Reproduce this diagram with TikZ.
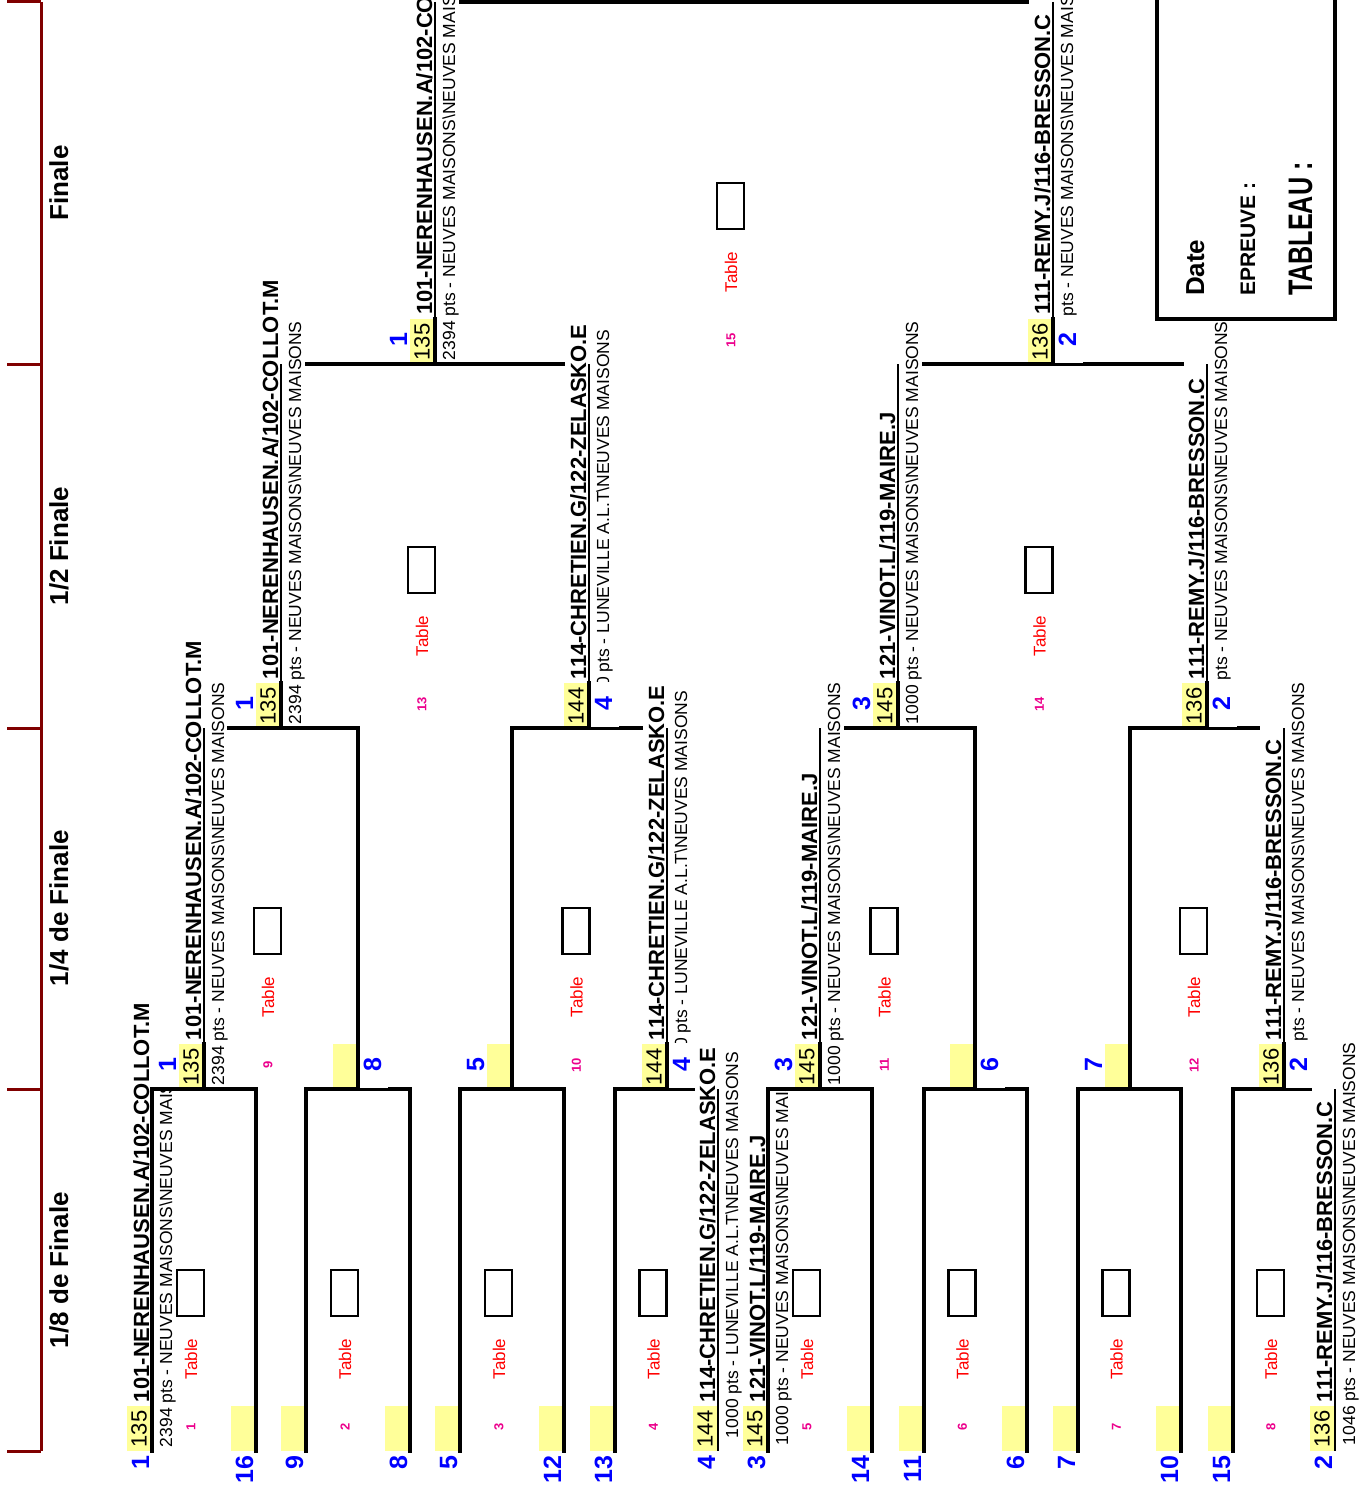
\documentclass[tikz,border=0pt]{standalone}
\usepackage{fontspec}
\usepackage{graphicx}
\setmainfont{Liberation Sans}
\usetikzlibrary{positioning}

\definecolor{darkred}{RGB}{128,0,0}
\definecolor{lightyellow}{RGB}{255,255,153}

\tikzset{
  bracket/.style={line width=3.4pt,line cap=rect},
  underline/.style={line width=1.8pt},
  vtext/.style={rotate=90,inner sep=0pt,outer sep=0pt},
  playername/.style={vtext,anchor=base west,font=\fontsize{22}{22}\selectfont\bfseries},
  clubtext/.style={vtext,anchor=base west,font=\fontsize{17.5}{17.5}\selectfont},
  ptsval/.style={vtext,font=\fontsize{22}{22}\selectfont},
  seedno/.style={vtext,anchor=base east,text=blue,font=\fontsize{25}{25}\selectfont\bfseries},
  tablebox/.style={draw,line width=2.2pt,minimum width=27pt,minimum height=46pt,inner sep=0pt},
  tablelabel/.style={vtext,text=red,font=\fontsize{17}{17}\selectfont},
  tableno/.style={vtext,text=magenta,font=\fontsize{13}{13}\selectfont\bfseries},
  stagelabel/.style={vtext,anchor=base,font=\fontsize{26}{26}\selectfont\bfseries},
  infolabel/.style={vtext,anchor=base west,font=\fontsize{26}{26}\selectfont\bfseries},
}

% yellow cell with the points: line x, bottom y, points, node name
\newcommand{\ptscell}[4]{%
  \fill[lightyellow] (#1-25,#2-45) rectangle (#1-1,#2);
  \node[ptsval] (#4) at (#1-13,#2-22) {#3};
}
% name and club of a player: line x, bottom y, name, club, club shift, node name
\newcommand{\player}[6]{%
  \node[playername] (#6n) at (#1-3,#2-49) {#3};
  \node[clubtext] (#6c) at (#1+20,#2-#5) {#4};
}
% line under a player: thin, thick next to the yellow cell
\newcommand{\namedline}[3]{%
  \draw[underline] (#1,#2) -- (#1,#3-45);
  \draw[bracket] (#1,#3-45) -- (#1,#3);
}
% seed on the right of the line, over a white cell
\newcommand{\seedright}[4]{%
  \fill[white] (#1+2,#2-46) rectangle (#1+30,#2-1);
  \node[seedno] (#4) at (#1+23,#2-31) {#3};
}
% table cell of a match: centre x, bottom y, number
\newcommand{\tablecell}[3]{%
  \node[tablebox] (tbox#3) at (#1-13.5,#2-158) {};
  \node[tablelabel] (tlab#3) at (#1-13,#2-92) {Table};
  \node[tableno] (tno#3) at (#1-13,#2-24) {#3};
}

\newcommand{\clubA}{2394 pts - NEUVES MAISONS\textbackslash NEUVES MAISONS}
\newcommand{\clubB}{1000 pts - LUNEVILLE A.L.T\textbackslash NEUVES MAISONS}
\newcommand{\clubC}{1000 pts - NEUVES MAISONS\textbackslash NEUVES MAISONS}
\newcommand{\clubD}{1046 pts - NEUVES MAISONS\textbackslash NEUVES MAISONS}
\newcommand{\pairA}{101-NERENHAUSEN.A/102-COLLOT.M}
\newcommand{\pairB}{114-CHRETIEN.G/122-ZELASKO.E}
\newcommand{\pairC}{121-VINOT.L/119-MAIRE.J}
\newcommand{\pairD}{111-REMY.J/116-BRESSON.C}

\begin{document}
\begin{tikzpicture}[x=1pt,y=-1pt]
\useasboundingbox (0,0) rectangle (1361,1495);
\clip (0,0) rectangle (1361,1495);

% stage scale on the left
\draw[darkred,line width=3pt] (41,2) -- (41,1451);
\foreach \y in {2,364,728,1089,1451}
  \draw[darkred,line width=3pt] (7,\y) -- (41,\y);
\node[stagelabel] (finale) at (68,183) {Finale};
\node[stagelabel] (demi) at (68,546) {1/2 Finale};
\node[stagelabel] (quart) at (68,908) {1/4 de Finale};
\node[stagelabel] (huitieme) at (68,1270) {1/8 de Finale};

% yellow cells
\foreach \x in {256,306,410,460,564,615,872,924,1027,1078,1181,1233}
  \fill[lightyellow] (\x-25,1406) rectangle (\x-1,1451);
\foreach \x in {358,512,975,1130}
  \fill[lightyellow] (\x-25,1044) rectangle (\x-1,1089);
\ptscell{152}{1451}{135}{r1p1}
\ptscell{718}{1451}{144}{r1p4}
\ptscell{768}{1451}{145}{r1p3}
\ptscell{1335}{1451}{136}{r1p2}
\ptscell{204}{1089}{135}{r2p1}
\ptscell{667}{1089}{144}{r2p4}
\ptscell{820}{1089}{145}{r2p3}
\ptscell{1284}{1089}{136}{r2p2}
\ptscell{281}{728}{135}{r3p1}
\ptscell{589}{728}{144}{r3p4}
\ptscell{898}{728}{145}{r3p3}
\ptscell{1207}{728}{136}{r3p2}
\ptscell{435}{364}{135}{r4p1}
\ptscell{1053}{364}{136}{r4p2}

% 1/8 de finale
\foreach \a/\b in {152/256,306/410,460/564,768/872,924/1027,1078/1181}
  \draw[bracket] (\a,1451) -- (\a,1089) -- (\b,1089) -- (\b,1451);
\draw[bracket] (615,1451) -- (615,1089) -- (693,1089);
\draw[underline] (718,1089) -- (718,1451);
\draw[bracket] (1233,1451) -- (1233,1089) -- (1310,1089);
\draw[underline] (1335,1089) -- (1335,1451);

% 1/4 de finale
\namedline{204}{728}{1089}
\draw[bracket] (229,728) -- (358,728) -- (358,1089);
\draw[bracket] (512,1089) -- (512,728) -- (641,728);
\namedline{667}{728}{1089}
\namedline{820}{728}{1089}
\draw[bracket] (846,728) -- (975,728) -- (975,1089);
\draw[bracket] (1130,1089) -- (1130,728) -- (1258,728);
\namedline{1284}{728}{1089}

% 1/2 finale and finale
\namedline{281}{364}{728}
\namedline{589}{364}{728}
\draw[bracket] (307,364) -- (563,364);
\namedline{898}{364}{728}
\namedline{1207}{364}{728}
\draw[bracket] (924,364) -- (1182,364);
\namedline{435}{2}{364}
\namedline{1053}{2}{364}
\draw[bracket] (461,2) -- (1027,2);

% players
\node[playername] (r1p1n) at (149,1402) {\pairA};
\begin{scope}
  \clip (153,1091) rectangle (190,1451);
  \node[clubtext] (r1p1c) at (172,1447) {\clubA};
\end{scope}
\player{718}{1451}{\pairB}{\clubB}{13}{r1p4}
\node[playername] (r1p3n) at (765,1402) {\pairC};
\begin{scope}
  \clip (769,1091) rectangle (805,1451);
  \node[clubtext] (r1p3c) at (788,1445) {\clubC};
\end{scope}
\player{1335}{1451}{\pairD}{\clubD}{6}{r1p2}

\player{204}{1089}{\pairA}{\clubA}{4}{r2p1}
\player{667}{1089}{\pairB}{\clubB}{12}{r2p4}
\player{820}{1089}{\pairC}{\clubC}{4}{r2p3}
\player{1284}{1089}{\pairD}{\clubD}{4}{r2p2}
\player{281}{728}{\pairA}{\clubA}{4}{r3p1}
\player{589}{728}{\pairB}{\clubB}{12}{r3p4}
\player{898}{728}{\pairC}{\clubC}{4}{r3p3}
\player{1207}{728}{\pairD}{\clubD}{4}{r3p2}
\player{435}{364}{\pairA}{\clubA}{4}{r4p1}
\player{1053}{364}{\pairD}{\clubD}{4}{r4p2}

% seeds
\foreach \x/\s in {152/1,256/16,306/9,410/8,460/5,564/12,615/13,718/4,768/3,872/14,924/11,1027/6,1078/7,1181/10,1233/15,1335/2}
  \node[seedno] (s1-\s) at (\x-3,1456) {\s};
\foreach \x/\s in {204/1,512/5,820/3,1130/7}
  \node[seedno] (s2-\s) at (\x-28,1058) {\s};
\foreach \x/\s in {358/8,667/4,975/6,1284/2}
  {\seedright{\x}{1089}{\s}{s2-\s}}
\foreach \x/\s in {281/1,898/3}
  \node[seedno] (s3-\s) at (\x-28,697) {\s};
\foreach \x/\s in {589/4,1207/2}
  {\seedright{\x}{728}{\s}{s3-\s}}
\node[seedno] (s4-1) at (407,333) {1};
\seedright{1053}{364}{2}{s4-2}

% tables
\foreach \c/\n in {204/1,358/2,512/3,666.5/4,820/5,975.5/6,1129.5/7,1284/8}
  {\tablecell{\c}{1451}{\n}}
\foreach \c/\n in {281/9,589.5/10,897.5/11,1207/12}
  {\tablecell{\c}{1089}{\n}}
\foreach \c/\n in {435/13,1052.5/14}
  {\tablecell{\c}{728}{\n}}
\tablecell{744}{364}{15}

% info box
\draw[line width=4pt] (1157,-10) rectangle (1335,319);
\node[infolabel] (date) at (1204,296) {Date};
\node[infolabel,font=\fontsize{21}{21}\selectfont\bfseries] (epreuve) at (1255,296) {EPREUVE :};
\node[infolabel,font=\fontsize{34}{34}\selectfont\bfseries] (tableau) at (1312,296) {\scalebox{0.74}[1]{TABLEAU :}};
\end{tikzpicture}
\end{document}
